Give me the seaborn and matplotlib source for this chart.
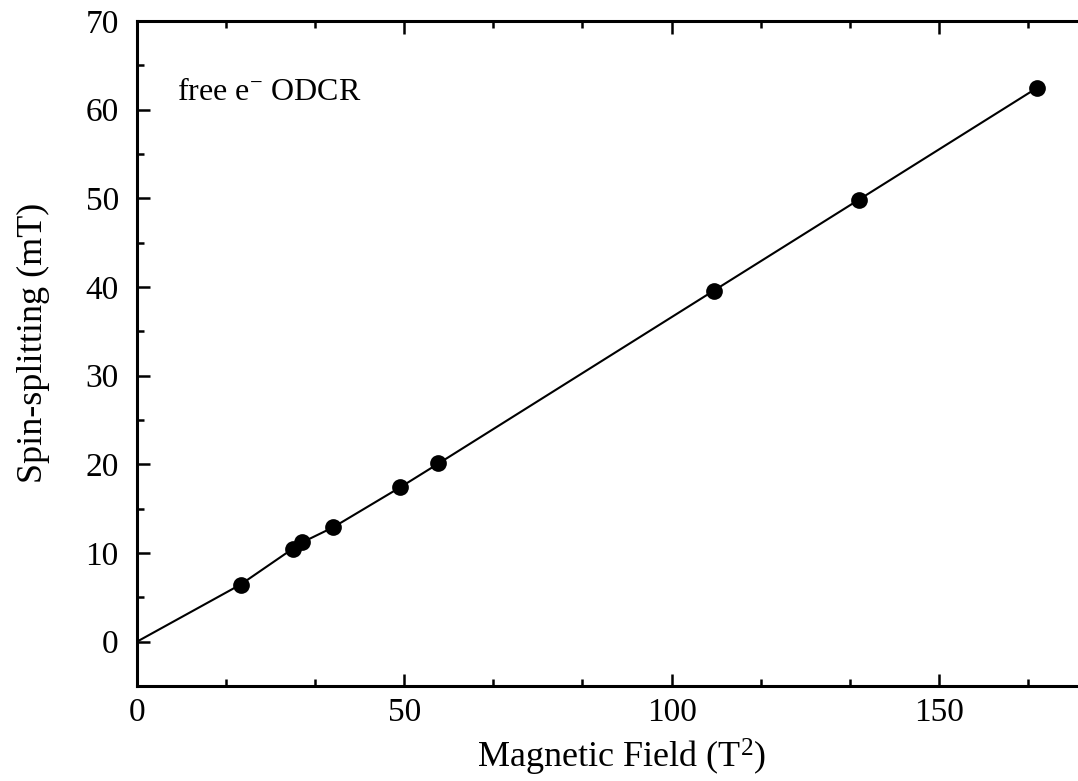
import numpy as np
import pandas as pd
import matplotlib
matplotlib.use("Agg")
import matplotlib.pyplot as plt
from matplotlib.ticker import MultipleLocator
import seaborn as sns

# Data
field_T2 = [19.4, 29.1, 30.9, 36.7, 49.2, 56.4, 107.9, 135.0, 168.3]
splitting_mT = [6.45, 10.47, 11.2, 12.9, 17.4, 20.1, 39.6, 49.85, 62.45]
fit_x = [0.0, 19.4, 29.1, 30.9, 36.7, 49.2, 56.4, 107.9, 135.0, 168.3]
fit_y = [0.0, 6.45, 10.47, 11.2, 12.9, 17.4, 20.1, 39.6, 49.85, 62.45]
x_ticks = [0, 50, 100, 150]
y_ticks = [0, 10, 20, 30, 40, 50, 60, 70]

sns.set_theme(style="ticks")
plt.rcParams['font.family'] = ['Liberation Serif', 'DejaVu Serif']
plt.rcParams['mathtext.fontset'] = 'custom'
plt.rcParams['mathtext.rm'] = 'Liberation Serif'
plt.rcParams['mathtext.it'] = 'Liberation Serif:italic'
plt.rcParams['text.color'] = 'black'
plt.rcParams['axes.labelcolor'] = 'black'

df = pd.DataFrame({"x": field_T2, "y": splitting_mT})
fit = pd.DataFrame({"x": fit_x, "y": fit_y})

fig = plt.figure(figsize=(10.78, 7.81), dpi=100)
ax = fig.add_axes([0.127, 0.1216, 0.873, 0.8514])

sns.lineplot(data=fit, x="x", y="y", ax=ax, color="black", linewidth=1.5,
             sort=False, estimator=None)
sns.scatterplot(data=df, x="x", y="y", ax=ax, color="black", s=145,
                edgecolor="black", linewidth=0, zorder=3)

ax.set_xlim(0, 176)
ax.set_ylim(-5, 70)
ax.set_xticks(x_ticks)
ax.set_yticks(y_ticks)
ax.xaxis.set_minor_locator(MultipleLocator(50 / 3))
ax.yaxis.set_minor_locator(MultipleLocator(5))

for side in ["left", "bottom", "top"]:
    ax.spines[side].set_linewidth(2.2)
    ax.spines[side].set_color("black")
ax.spines["right"].set_visible(False)

ax.tick_params(which="both", direction="in", top=True, right=False,
               colors="black", labelcolor="black", width=1.8)
ax.tick_params(which="major", length=9, labelsize=24)
ax.tick_params(axis="x", which="major", pad=8)
ax.tick_params(axis="y", which="major", pad=13)
ax.tick_params(which="minor", length=5)

ax.set_xlabel("Magnetic Field (T$^2$)", fontsize=26, color="black")
ax.set_ylabel("Spin-splitting (mT)", fontsize=26, color="black")
ax.xaxis.set_label_coords(0.515, -0.077)
ax.yaxis.set_label_coords(-0.092, 0.516)

ax.text(7.5, 62, "free e$^{-}$ ODCR", fontsize=23, ha="left", va="center",
        color="black")

fig.savefig("out.png", dpi=100)
